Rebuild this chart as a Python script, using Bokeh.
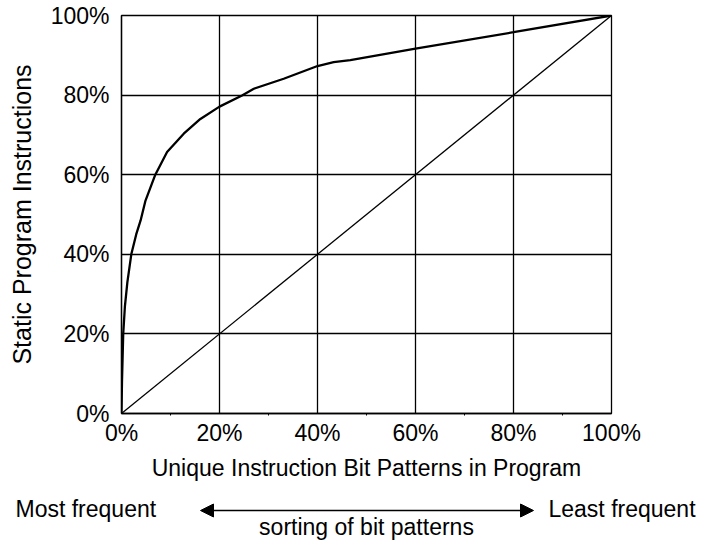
from bokeh.plotting import figure
from bokeh.layouts import column
from bokeh.models import FixedTicker, Arrow, NormalHead, Range1d
from bokeh.core.properties import value
from bokeh.embed import file_html
from bokeh.resources import INLINE

# ---- data ----
unique_pct = [0, 0.1, 0.35, 0.7, 1.2, 2.0, 3.0, 3.9, 4.9, 6.9, 9.3, 12.7, 16.1,
              20.0, 24.6, 27.0, 33.1, 40.0, 43.3, 46.7, 60.0, 80.0, 100.0]
static_pct = [0, 8, 20, 27, 33, 40, 45, 48.5, 53.5, 60.0, 65.7, 70.3, 74.0,
              77.1, 79.9, 81.6, 84.1, 87.3, 88.3, 88.8, 91.7, 95.8, 100.0]
diag_x = [0, 100]
diag_y = [0, 100]

tick_vals = [0, 20, 40, 60, 80, 100]
tick_labels = ["0%", "20%", "40%", "60%", "80%", "100%"]

x_title = "Unique Instruction Bit Patterns in Program"
y_title = "Static Program Instructions"
left_note = "Most frequent"
right_note = "Least frequent"
mid_note = "sorting of bit patterns"

FONT = "Liberation Sans"
INK = "black"

# ---- main chart ----
p = figure(width=704, height=490, x_range=(0, 100), y_range=(0, 100),
           output_backend="svg", toolbar_location=None,
           min_border_left=121, min_border_right=93,
           min_border_top=15, min_border_bottom=77,
           background_fill_color="white", border_fill_color="white")
p.frame_align = False

p.outline_line_color = INK
p.outline_line_width = 1.3

minor = [(a + b) / 2 for a, b in zip(tick_vals[:-1], tick_vals[1:])]
overrides = {v: s for v, s in zip(tick_vals, tick_labels)}

for ax in (p.xaxis[0], p.yaxis[0]):
    ax.ticker = FixedTicker(ticks=tick_vals, minor_ticks=minor)
    ax.major_label_overrides = overrides
    ax.major_label_text_font = FONT
    ax.major_label_text_font_size = "23px"
    ax.major_label_text_color = INK
    ax.axis_label_text_font = FONT
    ax.axis_label_text_font_style = "normal"
    ax.axis_label_text_color = INK
    ax.axis_line_color = INK
    ax.axis_line_width = 1.3
    ax.major_tick_in = 0
    ax.major_tick_out = 0

p.xaxis.axis_label = x_title
p.xaxis.axis_label_text_font_size = "23px"
p.xaxis.major_label_standoff = 4
p.xaxis.axis_label_standoff = 6
p.xaxis.minor_tick_in = 0
p.xaxis.minor_tick_out = 2
p.xaxis.minor_tick_line_color = INK

p.yaxis.axis_label = y_title
p.yaxis.axis_label_text_font_size = "25px"
p.yaxis.major_label_standoff = 8
p.yaxis.axis_label_standoff = 12
p.yaxis.minor_tick_line_color = None

for g in (p.xgrid[0], p.ygrid[0]):
    g.ticker = FixedTicker(ticks=tick_vals)
    g.grid_line_color = INK
    g.grid_line_width = 1.3
    g.grid_line_alpha = 1.0

p.line(diag_x, diag_y, line_color=INK, line_width=1.3)
p.line(unique_pct, static_pct, line_color=INK, line_width=2.3)

# ---- annotation strip below the chart (pixel-like coordinates, y downward) ----
q = figure(width=704, height=54, x_range=Range1d(0, 704), y_range=Range1d(54, 0),
           output_backend="svg", toolbar_location=None,
           min_border=0, outline_line_color=None,
           background_fill_color="white", border_fill_color="white")
q.frame_align = False
q.axis.visible = False
q.grid.visible = False

note_kw = dict(text_font=value(FONT), text_font_size="23px", text_color=INK,
               text_baseline="alphabetic")
q.text(x=[15], y=[18], text=[left_note], text_align="left", **note_kw)
q.text(x=[548], y=[18], text=[right_note], text_align="left", **note_kw)
q.text(x=[366], y=[36], text=[mid_note], text_align="center", **note_kw)

q.add_layout(Arrow(x_start=200, y_start=20, x_end=533, y_end=20,
                   line_color=INK, line_width=1.4,
                   start=NormalHead(size=13, fill_color=INK, line_color=INK),
                   end=NormalHead(size=13, fill_color=INK, line_color=INK)))

layout = column(p, q, spacing=0)

open("out.html", "w").write(file_html(layout, INLINE))
